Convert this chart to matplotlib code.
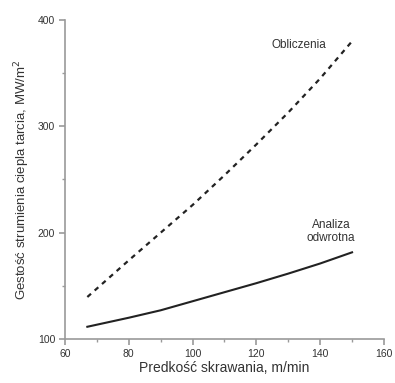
import numpy as np
import matplotlib
matplotlib.use('Agg')
import matplotlib.pyplot as plt
from matplotlib.ticker import MultipleLocator

plt.rcParams['font.family'] = ['Liberation Sans', 'DejaVu Sans']

# DANE
v = [67, 80, 90, 100, 110, 120, 130, 140, 150]
q_obliczenia = [139.5, 174, 200, 226, 254, 283, 313, 345, 380]
q_analiza = [111.5, 120, 127, 135.5, 144, 152.5, 161.5, 171, 181.5]

xlabel = 'Predkość skrawania, m/min'
ylabel = 'Gestość strumienia ciepla tarcia, MW/m$^2$'

# FIGURA
fig = plt.figure(figsize=(3.95, 3.83), dpi=100)
ax = fig.add_axes([0.1646, 0.1149, 0.8074, 0.8329])

c_txt = '#333333'
c_ax = '#9a9a9a'

ax.plot(v, q_obliczenia, color='#222222', lw=1.6, linestyle=(0, (2.2, 2.2)))
ax.plot(v, q_analiza, color='#222222', lw=1.5)

ax.text(133.4, 376.6, 'Obliczenia', ha='center', va='center', fontsize=8.5, color=c_txt)
ax.text(143.4, 201, 'Analiza\nodwrotna', ha='center', va='center', fontsize=8.5,
        color=c_txt, linespacing=1.1)

ax.set_xlim(60, 160)
ax.set_ylim(100, 400)
ax.xaxis.set_major_locator(MultipleLocator(20))
ax.xaxis.set_minor_locator(MultipleLocator(10))
ax.yaxis.set_major_locator(MultipleLocator(100))
ax.yaxis.set_minor_locator(MultipleLocator(50))

for s in ['top', 'right']:
    ax.spines[s].set_visible(False)
for s in ['left', 'bottom']:
    ax.spines[s].set_color(c_ax)
    ax.spines[s].set_linewidth(1.2)

ax.tick_params(which='major', direction='out', length=4, width=1.2, color=c_ax,
               labelsize=7.5, labelcolor=c_txt, pad=3)
ax.tick_params(which='minor', direction='out', length=2, width=1, color=c_ax)

ax.set_xlabel(xlabel, fontsize=10, color=c_txt, labelpad=2)
ax.set_ylabel(ylabel, fontsize=9.5, color=c_txt, labelpad=4)

fig.savefig('out.png', dpi=100)
